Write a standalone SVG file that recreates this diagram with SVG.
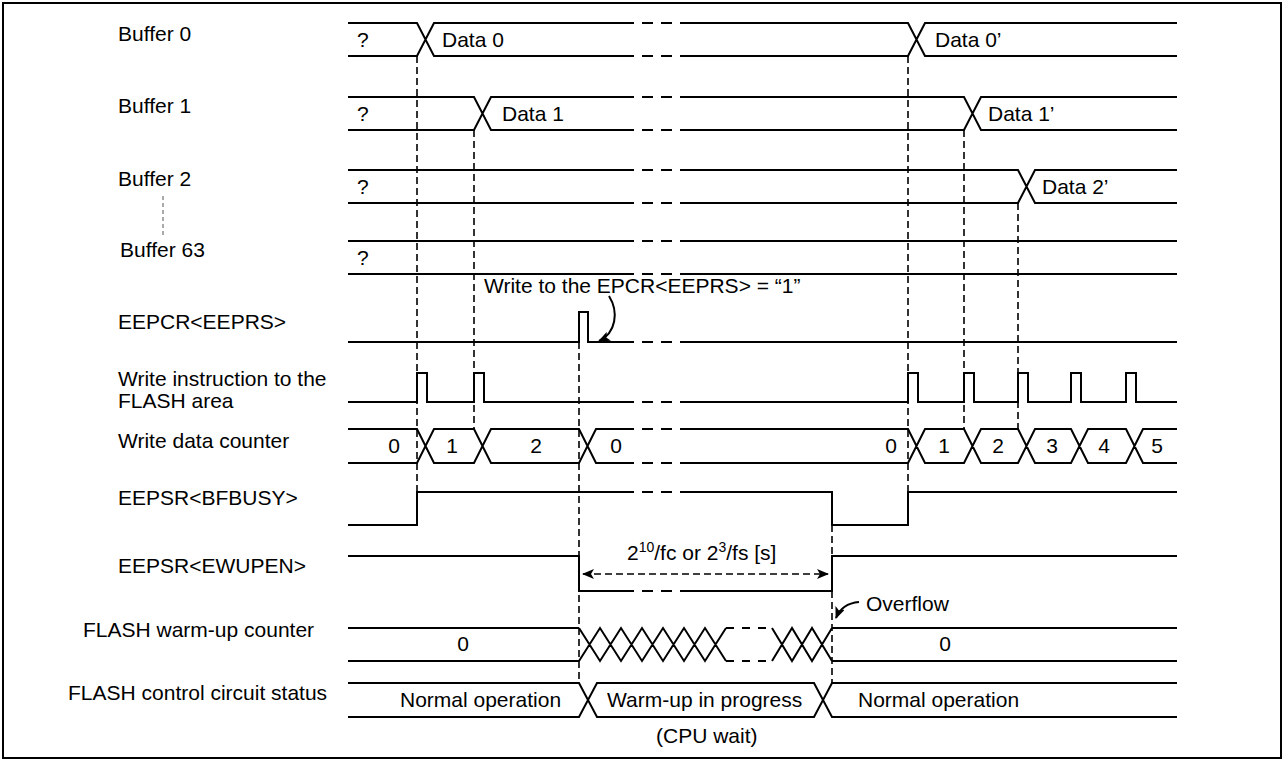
<svg xmlns="http://www.w3.org/2000/svg" width="1286" height="763" viewBox="0 0 1286 763">
<style>
.s{stroke:#000;stroke-width:2;fill:none}
.b{stroke:#000;stroke-width:2;fill:none;stroke-dasharray:11,8}
.d{stroke:#000;stroke-width:1.6;fill:none;stroke-dasharray:7,4}
.t{font-family:"Liberation Sans",Arial,sans-serif;font-size:21px;fill:#000}
.m{text-anchor:middle}
</style>
<defs>
<marker id="ah" viewBox="0 0 12 10" refX="11" refY="5" markerWidth="12" markerHeight="10" markerUnits="userSpaceOnUse" orient="auto-start-reverse">
<path d="M0,0 L12,5 L0,10 L3,5 z" fill="#000"/>
</marker>
</defs>
<rect x="3" y="3" width="1278" height="755" fill="#fff" stroke="#000" stroke-width="2"/>

<g id="labels" class="t">
<text x="118" y="41">Buffer 0</text>
<text x="118" y="113">Buffer 1</text>
<text x="118" y="186">Buffer 2</text>
<text x="120" y="257">Buffer 63</text>
<text x="118" y="329">EEPCR&lt;EEPRS&gt;</text>
<text x="118" y="386">Write instruction to the</text>
<text x="118" y="408">FLASH area</text>
<text x="118" y="448">Write data counter</text>
<text x="118" y="505">EEPSR&lt;BFBUSY&gt;</text>
<text x="118" y="573">EEPSR&lt;EWUPEN&gt;</text>
<text x="83" y="637">FLASH warm-up counter</text>
<text x="68" y="700">FLASH control circuit status</text>
</g>
<line x1="163" y1="196" x2="163" y2="235" stroke="#555" stroke-width="1" stroke-dasharray="4,3"/>

<g id="buffer0">
<path class="s" d="M348 23 H417 L434 56 H623 M348 56 H417 L434 23 H623 M690 23 H908 L925 56 H1177 M690 56 H908 L925 23 H1177"/>
<path class="b" d="M623 23 H690 M623 56 H690"/>
<text class="t" x="357" y="47">?</text>
<text class="t" x="442" y="47">Data 0</text>
<text class="t" x="935" y="47">Data 0’</text>
</g>

<g id="buffer1">
<path class="s" d="M348 97 H474 L491 130 H623 M348 130 H474 L491 97 H623 M690 97 H964 L981 130 H1177 M690 130 H964 L981 97 H1177"/>
<path class="b" d="M623 97 H690 M623 130 H690"/>
<text class="t" x="357" y="121">?</text>
<text class="t" x="502" y="121">Data 1</text>
<text class="t" x="988" y="121">Data 1’</text>
</g>

<g id="buffer2">
<path class="s" d="M348 170 H623 M348 203 H623 M690 170 H1018 L1035 203 H1177 M690 203 H1018 L1035 170 H1177"/>
<path class="b" d="M623 170 H690 M623 203 H690"/>
<text class="t" x="357" y="194">?</text>
<text class="t" x="1042" y="194">Data 2’</text>
</g>

<g id="buffer63">
<path class="s" d="M348 241 H623 M348 274 H623 M690 241 H1177 M690 274 H1177"/>
<path class="b" d="M623 241 H690 M623 274 H690"/>
<text class="t" x="357" y="265">?</text>
</g>

<g id="eeprs">
<path class="s" d="M348 342 H579 V312 H588 V342 H623 M690 342 H1177"/>
<path class="b" d="M623 342 H690"/>
</g>

<g id="write-instruction">
<path class="s" d="M348 402 H417 V373 H427 V402 H474 V373 H484 V402 H623 M690 402 H908 V373 H918 V402 H964 V373 H974 V402 H1018 V373 H1028 V402 H1071 V373 H1081 V402 H1126 V373 H1136 V402 H1177"/>
<path class="b" d="M623 402 H690"/>
</g>

<g id="write-data-counter">
<path class="s" d="M348 429 H417 L434 463 H474 L491 429 H579 L596 463 H623 M348 463 H417 L434 429 H474 L491 463 H579 L596 429 H623"/>
<path class="b" d="M623 429 H690 M623 463 H690"/>
<path class="s" d="M690 463 H908 L925 429 H964 L981 463 H1018 L1035 429 H1071 L1088 463 H1126 L1143 429 H1177 M690 429 H908 L925 463 H964 L981 429 H1018 L1035 463 H1071 L1088 429 H1126 L1143 463 H1177"/>
<g class="t m">
<text x="394" y="453">0</text>
<text x="452" y="453">1</text>
<text x="536" y="453">2</text>
<text x="616" y="453">0</text>
<text x="891" y="453">0</text>
<text x="944" y="453">1</text>
<text x="998" y="453">2</text>
<text x="1052" y="453">3</text>
<text x="1104" y="453">4</text>
<text x="1157" y="453">5</text>
</g>
</g>

<g id="bfbusy">
<path class="s" d="M348 525 H417 V492 H623 M690 492 H832 V525 H908 V492 H1177"/>
<path class="b" d="M623 492 H690"/>
</g>

<g id="ewupen">
<path class="s" d="M348 556 H579 V591 H623 M690 591 H832 V556 H1177"/>
<path class="b" d="M623 591 H690"/>
</g>

<g id="warmup-counter">
<path class="s" d="M348 628 H579 M348 661 H579 M579 628 L600 661 L621 628 L642 661 L663 628 L684 661 L705 628 L726 661 M579 661 L600 628 L621 661 L642 628 L663 661 L684 628 L705 661 L726 628 M772 628 L792 661 L812 628 L832 661 M772 661 L792 628 L812 661 L832 628 M832 628 H1177 M832 661 H1177"/>
<path class="b" d="M726 628 H772 M726 661 H772" style="stroke-dasharray:8,8"/>
<text class="t m" x="463" y="651">0</text>
<text class="t m" x="945" y="651">0</text>
</g>

<g id="flash-status">
<path class="s" d="M348 683 H579 L597 717 H814 L832 683 H1177 M348 717 H579 L597 683 H814 L832 717 H1177"/>
<text class="t" x="400" y="707">Normal operation</text>
<text class="t" x="607" y="707">Warm-up in progress</text>
<text class="t" x="656" y="743">(CPU wait)</text>
<text class="t" x="858" y="707">Normal operation</text>
</g>

<g id="connectors">
<path class="d" d="M417 56 V492 M474 130 V429 M579 342 V683 M832 492 V683 M908 56 V492 M964 130 V429 M1018 203 V429"/>
<path class="d" d="M583 574 H828" marker-start="url(#ah)" marker-end="url(#ah)"/>
<path class="s" stroke-width="1.6" d="M609 296 C619 312 616 333 599 341" marker-end="url(#ah)"/>
<path class="s" stroke-width="1.6" d="M859 602 C848 603 840 608 836 618" marker-end="url(#ah)"/>
<text class="t" x="484" y="293">Write to the EPCR&lt;EEPRS&gt; = “1”</text>
<text class="t" x="627" y="560">2<tspan dy="-8" font-size="14">10</tspan><tspan dy="8">/fc or 2</tspan><tspan dy="-8" font-size="14">3</tspan><tspan dy="8">/fs [s]</tspan></text>
<text class="t" x="866" y="611">Overflow</text>
</g>
</svg>
